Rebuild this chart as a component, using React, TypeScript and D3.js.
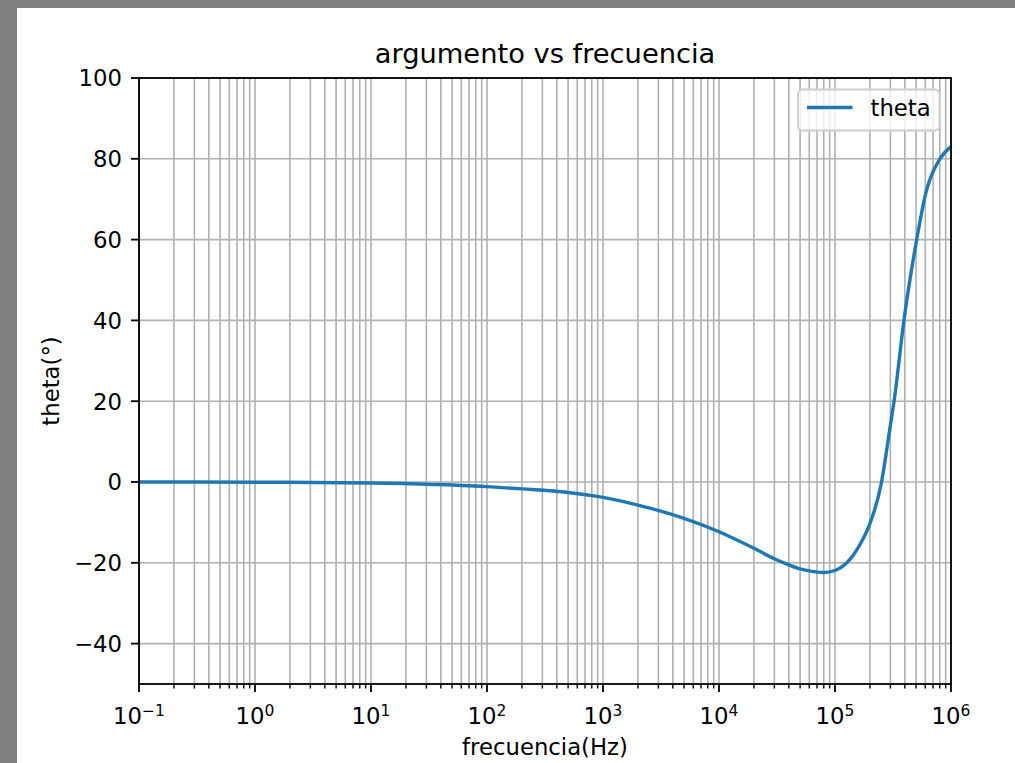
import React from 'react';
import * as d3 from 'd3';

// Data
const frequencies = [0.1, 1, 10, 100, 200, 500, 1000, 2000, 5000, 10000, 20000, 30000, 40000, 50000, 60000, 80000, 100000, 135000, 175000, 200000, 250000, 300000, 323000, 393000, 506000, 596000, 804000, 1000000];
const theta = [0, -0.05, -0.25, -1.15, -1.7, -2.6, -3.8, -5.7, -9.0, -12.3, -16.4, -19.0, -20.5, -21.5, -22.0, -22.4, -21.9, -19.1, -14.0, -10.3, -0.5, 14.0, 20.0, 40.0, 60.0, 70.6, 80.0, 83.0];

const yTicks = [-40, -20, 0, 20, 40, 60, 80, 100];
const xDecades = [-1, 0, 1, 2, 3, 4, 5, 6];
const titleText = 'argumento vs frecuencia';
const xLabelText = 'frecuencia(Hz)';
const yLabelText = 'theta(°)';
const seriesName = 'theta';

const FONT = '"DejaVu Sans", Verdana, sans-serif';
const W = 1015;
const H = 763;
const L = 139, R = 951, T = 78, B = 684;

export default function App() {
  const x = d3.scaleLog().domain([0.1, 1e6]).range([L, R]);
  const y = d3.scaleLinear().domain([-50, 100]).range([B, T]);

  const minor: number[] = [];
  for (let k = -1; k < 6; k++) for (let m = 2; m < 10; m++) minor.push(m * Math.pow(10, k));
  const major = xDecades.map((e) => Math.pow(10, e));

  const line = d3
    .line<number>()
    .x((_, i) => x(frequencies[i]))
    .y((d) => y(d))
    .curve(d3.curveMonotoneX);

  const gridColor = '#b0b0b0';
  const gridW = 1.6;
  const fs = 22.75;

  return (
    <svg width={W} height={H} style={{ position: 'absolute', left: 0, top: 0 }} fontFamily={FONT}>
      <rect x={0} y={0} width={W} height={H} fill="#7f7f7f" />
      <rect x={17} y={8} width={W - 17} height={H - 8} fill="#ffffff" />
      <defs>
        <clipPath id="plotclip">
          <rect x={L} y={T} width={R - L} height={B - T} />
        </clipPath>
      </defs>
      {/* grid */}
      <g stroke={gridColor} strokeWidth={gridW}>
        {minor.map((f) => (
          <line key={'mg' + f} x1={x(f)} x2={x(f)} y1={T} y2={B} />
        ))}
        {major.map((f) => (
          <line key={'Mg' + f} x1={x(f)} x2={x(f)} y1={T} y2={B} />
        ))}
        {yTicks.map((v) => (
          <line key={'yg' + v} x1={L} x2={R} y1={y(v)} y2={y(v)} />
        ))}
      </g>
      {/* data line */}
      <path d={line(theta) || ''} fill="none" stroke="#1f77b4" strokeWidth={3.4} clipPath="url(#plotclip)" strokeLinejoin="round" strokeLinecap="butt" />
      {/* spines */}
      <rect x={L} y={T} width={R - L} height={B - T} fill="none" stroke="#000" strokeWidth={1.8} strokeLinecap="square" />
      {/* ticks */}
      <g stroke="#000">
        {minor.map((f) => (
          <line key={'mt' + f} x1={x(f)} x2={x(f)} y1={B} y2={B + 4.5} strokeWidth={1.4} />
        ))}
        {major.map((f) => (
          <line key={'Mt' + f} x1={x(f)} x2={x(f)} y1={B} y2={B + 8} strokeWidth={1.8} />
        ))}
        {yTicks.map((v) => (
          <line key={'yt' + v} x1={L - 8} x2={L} y1={y(v)} y2={y(v)} strokeWidth={1.8} />
        ))}
      </g>
      {/* x tick labels */}
      <g fill="#000" fontSize={fs}>
        {xDecades.map((e) => (
          <text key={'xl' + e} x={x(Math.pow(10, e))} y={724} textAnchor="middle">
            <tspan>10</tspan>
            <tspan fontSize={15.5} dy={-8}>{e < 0 ? '\u2212' + Math.abs(e) : String(e)}</tspan>
          </text>
        ))}
      </g>
      {/* y tick labels */}
      <g fill="#000" fontSize={fs}>
        {yTicks.map((v) => (
          <text key={'ylab' + v} x={122} y={y(v) + 8.3} textAnchor="end">
            {v < 0 ? '\u2212' + Math.abs(v) : String(v)}
          </text>
        ))}
      </g>
      {/* axis labels */}
      <text x={(L + R) / 2} y={755} textAnchor="middle" fontSize={fs} fill="#000">
        {xLabelText}
      </text>
      <text transform={`translate(59,${(T + B) / 2}) rotate(-90)`} textAnchor="middle" fontSize={fs} fill="#000">
        {yLabelText}
      </text>
      {/* title */}
      <text x={(L + R) / 2} y={62.5} textAnchor="middle" fontSize={27.3} fill="#000">
        {titleText}
      </text>
      {/* legend */}
      <g>
        <rect x={798} y={89.5} width={141.5} height={41} rx={4.5} ry={4.5} fill="#ffffff" fillOpacity={0.8} stroke="#cccccc" strokeWidth={1.8} />
        <line x1={807} x2={852.5} y1={107.5} y2={107.5} stroke="#1f77b4" strokeWidth={3.4} />
        <text x={870.5} y={115.5} fontSize={fs} fill="#000">
          {seriesName}
        </text>
      </g>
    </svg>
  );
}
